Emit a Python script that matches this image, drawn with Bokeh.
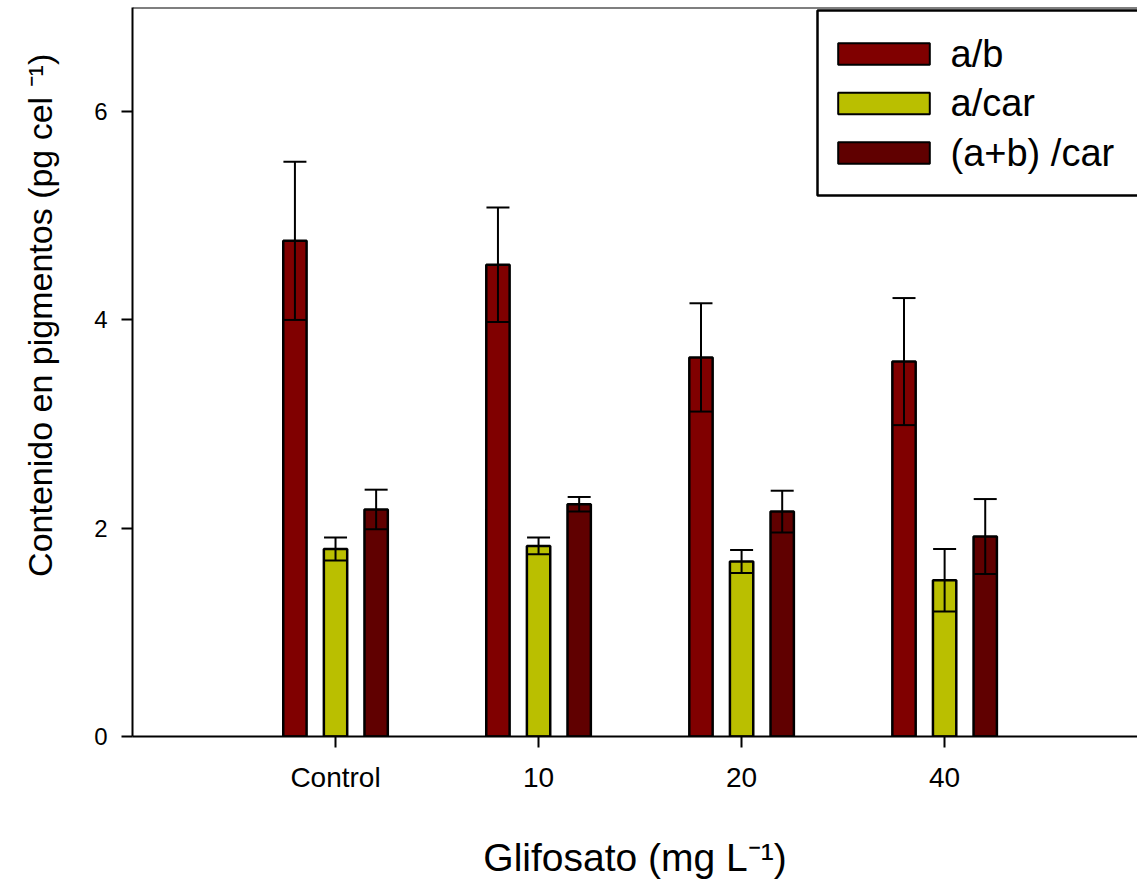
import numpy as np
from bokeh.plotting import figure
from bokeh.models import (ColumnDataSource, Range1d, FixedTicker, Whisker, TeeHead,
                          Span, BoxAnnotation, Label)
from bokeh.embed import file_html
from bokeh.resources import INLINE

# ---------------- data ----------------
categories = ["Control", "10", "20", "40"]
series_names = ["a/b", "a/car", "(a+b) /car"]
series_colors = ["#800000", "#BABF00", "#600000"]

ab = [4.76, 4.53, 3.64, 3.60]
ab_err = [0.76, 0.55, 0.52, 0.61]
acar = [1.80, 1.83, 1.68, 1.50]
acar_err = [0.11, 0.08, 0.11, 0.30]
abcar = [2.18, 2.23, 2.16, 1.92]
abcar_err = [0.19, 0.07, 0.20, 0.36]

y_ticks = [0, 2, 4, 6]

x_title = "Glifosato (mg L\u207b\u00b9)"
y_title = "\u00a0" * 12 + "Contenido en pigmentos (pg cel \u207b\u00b9)"

FONT = "Liberation Sans"

W, H = 1137, 881
p = figure(width=W, height=H, output_backend="svg", toolbar_location=None,
           x_range=Range1d(0.0, 4.95), y_range=Range1d(0, 7),
           min_border_left=132, min_border_right=0, min_border_top=7,
           min_border_bottom=145, tools="")
p.outline_line_color = None
p.background_fill_color = "white"
p.border_fill_color = "white"
p.xgrid.visible = False
p.ygrid.visible = False

base = np.arange(1, len(categories) + 1)
offsets = [-0.2, 0.0, 0.2]
values = [ab, acar, abcar]
errors = [ab_err, acar_err, abcar_err]

for vals, errs, col, off in zip(values, errors, series_colors, offsets):
    v = np.array(vals)
    e = np.array(errs)
    src = ColumnDataSource(dict(x=base + off, top=v, upper=v + e, lower=v - e))
    p.vbar(x="x", top="top", width=0.115, bottom=0, source=src,
           fill_color=col, line_color="black", line_width=2.5)
    wh = Whisker(base="x", upper="upper", lower="lower", source=src,
                 line_color="black", line_width=2,
                 upper_head=TeeHead(size=23, line_width=2, line_color="black"),
                 lower_head=TeeHead(size=23, line_width=2, line_color="black"),
                 level="overlay")
    p.add_layout(wh)

# axes
xa = p.xaxis[0]
xa.ticker = FixedTicker(ticks=list(base))
xa.major_label_overrides = {int(b): c for b, c in zip(base, categories)}
xa.major_tick_out = 11
xa.major_tick_in = 0
xa.minor_tick_line_color = None
xa.axis_line_width = 2
xa.major_tick_line_width = 2
xa.major_label_text_font = FONT
xa.major_label_text_font_size = "28px"
xa.major_label_text_color = "black"
xa.major_label_standoff = 14
xa.axis_label = x_title
xa.axis_label_text_font = FONT
xa.axis_label_text_font_size = "39px"
xa.axis_label_text_font_style = "normal"
xa.axis_label_text_color = "black"
xa.axis_label_standoff = 40

ya = p.yaxis[0]
ya.ticker = FixedTicker(ticks=y_ticks)
ya.major_tick_out = 11
ya.major_tick_in = 0
ya.minor_tick_line_color = None
ya.axis_line_width = 2
ya.major_tick_line_width = 2
ya.major_label_text_font = FONT
ya.major_label_text_font_size = "24px"
ya.major_label_text_color = "black"
ya.major_label_standoff = 14
ya.axis_label = y_title
ya.axis_label_text_font = FONT
ya.axis_label_text_font_size = "34px"
ya.axis_label_text_font_style = "normal"
ya.axis_label_text_color = "black"
ya.axis_label_standoff = 32

# top frame line
p.add_layout(Span(location=7, dimension="width", line_color="black", line_width=2))

# legend (manual), box then swatches then labels
p.add_layout(BoxAnnotation(left=685, right=1030, top=726, bottom=541,
                           left_units="screen", right_units="screen",
                           top_units="screen", bottom_units="screen",
                           fill_color="white", fill_alpha=1.0,
                           line_color="black", line_alpha=1.0, line_width=2.5,
                           level="overlay"))
sw_tops = [693.3, 643.8, 594.3]
for col, t in zip(series_colors, sw_tops):
    p.add_layout(BoxAnnotation(left=705.7, right=797.3, top=t, bottom=t - 21.6,
                               left_units="screen", right_units="screen",
                               top_units="screen", bottom_units="screen",
                               fill_color=col, fill_alpha=1.0,
                               line_color="black", line_alpha=1.0, line_width=2,
                               level="overlay"))

for name, t in zip(series_names, sw_tops):
    p.add_layout(Label(x=818, y=t - 10.5, x_units="screen", y_units="screen", text=name,
                       text_font=FONT, text_font_size="38px", text_color="black",
                       text_baseline="middle", text_align="left", level="overlay"))

open("out.html", "w").write(file_html(p, INLINE))
